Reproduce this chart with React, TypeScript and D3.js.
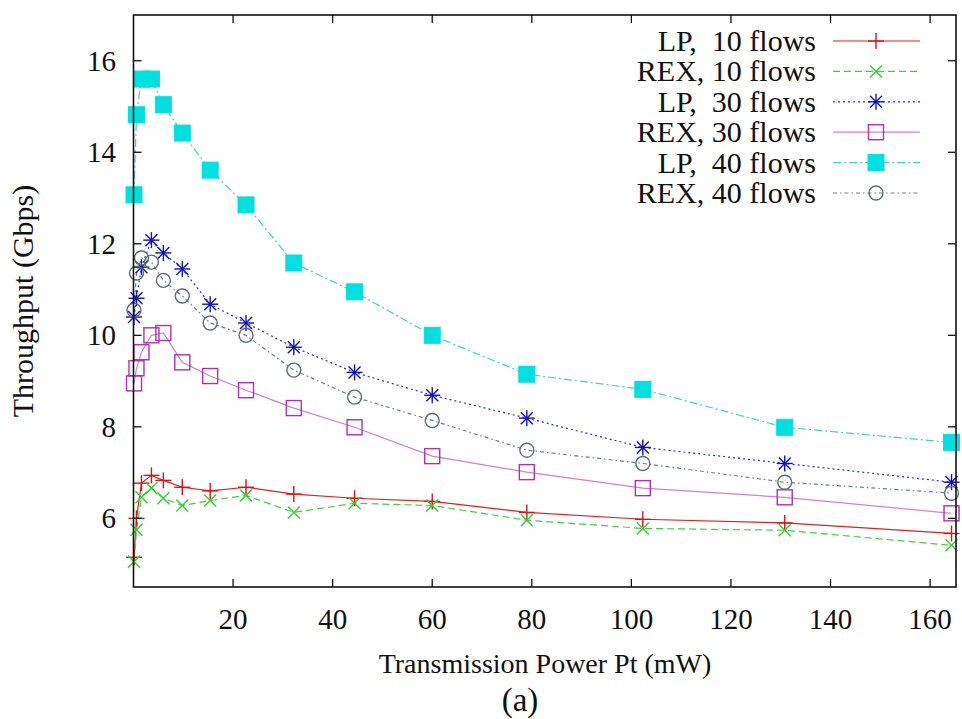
import React from "react";
import * as d3 from "d3";

const powerValues = [0.1, 0.6, 1.6, 3.6, 6, 9.8, 15.4, 22.6, 32.2, 44.4, 60, 79, 102.3, 130.8, 164.3];
const lp10 = [5.15, 6.0, 6.77, 6.94, 6.83, 6.68, 6.6, 6.68, 6.53, 6.44, 6.37, 6.13, 5.98, 5.9, 5.67];
const rex10 = [5.05, 5.75, 6.46, 6.66, 6.44, 6.28, 6.39, 6.5, 6.13, 6.33, 6.28, 5.96, 5.78, 5.74, 5.41];
const lp30 = [10.4, 10.81, 11.49, 12.08, 11.8, 11.45, 10.68, 10.27, 9.74, 9.19, 8.69, 8.19, 7.55, 7.2, 6.79];
const rex30 = [8.95, 9.28, 9.63, 10.0, 10.05, 9.41, 9.11, 8.8, 8.41, 7.99, 7.36, 7.01, 6.66, 6.46, 6.11];
const lp40 = [13.07, 14.82, 15.6, 15.6, 15.04, 14.42, 13.61, 12.85, 11.58, 10.95, 10.0, 9.15, 8.82, 7.99, 7.66];
const rex40 = [10.55, 11.36, 11.69, 11.6, 11.2, 10.86, 10.27, 10.0, 9.24, 8.65, 8.14, 7.49, 7.2, 6.79, 6.55];

const seriesNames = ["LP,  10 flows", "REX, 10 flows", "LP,  30 flows", "REX, 30 flows", "LP,  40 flows", "REX, 40 flows"];
const xTicks = [20, 40, 60, 80, 100, 120, 140, 160];
const yTicks = [6, 8, 10, 12, 14, 16];

type Marker = "plus" | "cross" | "star" | "square" | "fsquare" | "circle";

const styles: { color: string; lineColor: string; dash: string; marker: Marker }[] = [
  { color: "#e01010", lineColor: "#e02020", dash: "", marker: "plus" },
  { color: "#30d030", lineColor: "#40d040", dash: "7,4", marker: "cross" },
  { color: "#1010c0", lineColor: "#3030c0", dash: "2,3", marker: "star" },
  { color: "#b030b0", lineColor: "#d080d0", dash: "", marker: "square" },
  { color: "#00e0e0", lineColor: "#40d0d0", dash: "8,3,2,3", marker: "fsquare" },
  { color: "#557070", lineColor: "#708080", dash: "4,3,1.5,3", marker: "circle" },
];

const W = 962;
const H = 719;
const left = 133.5;
const right = 956;
const top = 15;
const bottom = 587;
const FONT = "'Liberation Serif', 'DejaVu Serif', serif";

function MarkerShape({ type, x, y, color }: { type: Marker; x: number; y: number; color: string }) {
  const s = 8;
  const sw = 1.4;
  switch (type) {
    case "plus":
      return (
        <g stroke={color} strokeWidth={sw}>
          <line x1={x - s} y1={y} x2={x + s} y2={y} />
          <line x1={x} y1={y - s} x2={x} y2={y + s} />
        </g>
      );
    case "cross":
      return (
        <g stroke={color} strokeWidth={sw}>
          <line x1={x - 6} y1={y - 6} x2={x + 6} y2={y + 6} />
          <line x1={x - 6} y1={y + 6} x2={x + 6} y2={y - 6} />
        </g>
      );
    case "star":
      return (
        <g stroke={color} strokeWidth={sw}>
          <line x1={x - s} y1={y} x2={x + s} y2={y} />
          <line x1={x} y1={y - s} x2={x} y2={y + s} />
          <line x1={x - 6} y1={y - 6} x2={x + 6} y2={y + 6} />
          <line x1={x - 6} y1={y + 6} x2={x + 6} y2={y - 6} />
        </g>
      );
    case "square":
      return <rect x={x - 7.5} y={y - 7.5} width={15} height={15} fill="none" stroke={color} strokeWidth={sw} />;
    case "fsquare":
      return <rect x={x - 8} y={y - 8} width={16} height={16} fill={color} stroke={color} strokeWidth={1} />;
    case "circle":
      return <circle cx={x} cy={y} r={7} fill="none" stroke={color} strokeWidth={sw} />;
  }
}

export default function App() {
  const x = d3.scaleLinear().domain([0, 165.2]).range([left, right]);
  const y = d3.scaleLinear().domain([4.5, 17]).range([bottom, top]);
  const data = [lp10, rex10, lp30, rex30, lp40, rex40];
  const line = d3
    .line<number>()
    .x((_, i) => x(powerValues[i]))
    .y((d) => y(d));

  const legendX = 816;
  const legendY0 = 41;
  const legendDy = 30.4;
  const tickLen = 8;
  const textStyle: React.CSSProperties = { fontFamily: FONT, whiteSpace: "pre" };

  return (
    <svg
      width={W}
      height={H}
      fontFamily={FONT}
      style={{ position: "absolute", left: 0, top: 0, background: "#fff", fontFamily: FONT }}
    >
      <rect x={0} y={0} width={W} height={H} fill="#fff" />
      {data.map((vals, si) => (
        <path
          key={"l" + si}
          d={line(vals) || ""}
          fill="none"
          stroke={styles[si].lineColor}
          strokeWidth={1.2}
          strokeDasharray={styles[si].dash}
        />
      ))}
      {data.map((vals, si) => (
        <g key={"m" + si}>
          {vals.map((v, i) => (
            <MarkerShape key={i} type={styles[si].marker} x={x(powerValues[i])} y={y(v)} color={styles[si].color} />
          ))}
        </g>
      ))}
      <rect x={left} y={top} width={right - left} height={bottom - top} fill="none" stroke="#111" strokeWidth={1.6} />
      {xTicks.map((t) => (
        <g key={"xt" + t}>
          <line x1={x(t)} y1={bottom} x2={x(t)} y2={bottom - tickLen} stroke="#111" strokeWidth={1.3} />
          <line x1={x(t)} y1={top} x2={x(t)} y2={top + tickLen} stroke="#111" strokeWidth={1.3} />
          <text x={x(t)} y={629} textAnchor="middle" style={textStyle} fontSize={29} fill="#111">
            {t}
          </text>
        </g>
      ))}
      {yTicks.map((t) => (
        <g key={"yt" + t}>
          <line x1={left} y1={y(t)} x2={left + tickLen} y2={y(t)} stroke="#111" strokeWidth={1.3} />
          <line x1={right} y1={y(t)} x2={right - tickLen} y2={y(t)} stroke="#111" strokeWidth={1.3} />
          <text x={116} y={y(t) + 10} textAnchor="end" style={textStyle} fontSize={29} fill="#111">
            {t}
          </text>
        </g>
      ))}
      <text
        transform={`translate(33, ${301}) rotate(-90)`}
        textAnchor="middle"
        style={textStyle}
        fontSize={30}
        fill="#111"
      >
        Throughput (Gbps)
      </text>
      <text x={545} y={673} textAnchor="middle" style={textStyle} fontSize={28} fill="#111">
        Transmission Power Pt (mW)
      </text>
      <text x={520} y={711} textAnchor="middle" style={textStyle} fontSize={33} fill="#111">
        (a)
      </text>
      {seriesNames.map((name, si) => {
        const ly = legendY0 + si * legendDy;
        return (
          <g key={"lg" + si}>
            <text x={legendX} y={ly + 10} textAnchor="end" style={textStyle} fontSize={30} fill="#111">
              {name}
            </text>
            <line
              x1={833}
              y1={ly}
              x2={920}
              y2={ly}
              stroke={styles[si].lineColor}
              strokeWidth={1.2}
              strokeDasharray={styles[si].dash}
            />
            <MarkerShape type={styles[si].marker} x={876} y={ly} color={styles[si].color} />
          </g>
        );
      })}
    </svg>
  );
}
